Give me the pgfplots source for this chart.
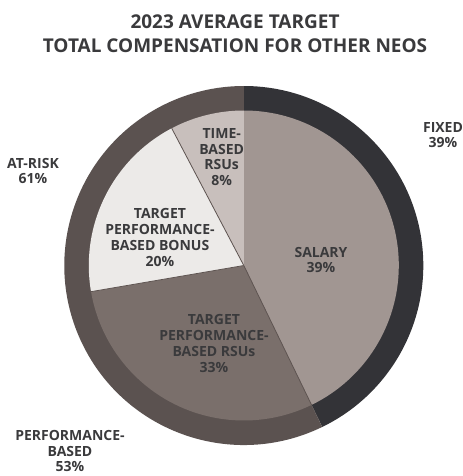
\documentclass[border=0pt]{standalone}
\usepackage{pgfplots}
\usepackage{pgfplotstable}
\pgfplotsset{compat=1.18}
\usepackage{fontspec}
\setmainfont{Open Sans}
\definecolor{cFixed}{RGB}{51,51,55}
\definecolor{cRisk}{RGB}{91,82,80}
\definecolor{cSalary}{RGB}{161,150,146}
\definecolor{cRSU}{RGB}{122,111,107}
\definecolor{cBonus}{RGB}{236,234,232}
\definecolor{cTime}{RGB}{200,191,188}
\definecolor{cLine}{RGB}{95,85,82}
\definecolor{cText}{RGB}{58,58,60}

% inner pie: drawn share of each slice (clockwise from 12 o'clock)
\pgfplotstableread{
value color
42.8 cSalary
29.5 cRSU
20.0 cBonus
7.7 cTime
}\pietable
% outer ring
\pgfplotstableread{
value color
42.8 cFixed
57.2 cRisk
}\ringtable

\begin{document}
\begin{tikzpicture}
\begin{axis}[
  hide axis, scale only axis,
  width=231pt, height=238pt,
  xmin=0, xmax=462, ymin=0, ymax=476,
  y dir=reverse, clip=false,
]
\def\cx{243.8}\def\cy{265.5}
% outer ring
\xdef\angA{90}
\foreach \i in {0,1}{
  \pgfplotstablegetelem{\i}{value}\of\ringtable \let\v\pgfplotsretval
  \pgfplotstablegetelem{\i}{color}\of\ringtable \let\c\pgfplotsretval
  \pgfmathsetmacro\angB{\angA-3.6*\v}
  \edef\tmp{\noexpand\fill[\c] (axis cs:\cx,\cy) -- ++(\angA:89.75pt) arc[start angle=\angA, end angle=\angB, radius=89.75pt] -- cycle;}
  \tmp
  \xdef\angA{\angB}
}
% inner pie
\xdef\angA{90}
\foreach \i in {0,...,3}{
  \pgfplotstablegetelem{\i}{value}\of\pietable \let\v\pgfplotsretval
  \pgfplotstablegetelem{\i}{color}\of\pietable \let\c\pgfplotsretval
  \pgfmathsetmacro\angB{\angA-3.6*\v}
  \edef\tmp{\noexpand\fill[\c] (axis cs:\cx,\cy) -- ++(\angA:77.5pt) arc[start angle=\angA, end angle=\angB, radius=77.5pt] -- cycle;
    \noexpand\draw[cLine, line width=0.4pt] (axis cs:\cx,\cy) -- ++(\angA:77.5pt);}
  \tmp
  \xdef\angA{\angB}
}
% texts
\tikzset{lab/.style={align=center, inner sep=0pt, text=cText, font=\bfseries\fontsize{7}{7.9}\selectfont}}
\node[align=center, inner sep=0pt, text=cText, font=\bfseries\fontsize{9.5}{11.8}\selectfont] at (axis cs:235,34) {2023 AVERAGE TARGET\\TOTAL COMPENSATION FOR OTHER NEOS};
\node[lab] at (axis cs:321,260) {SALARY\\39\%};
\node[lab] at (axis cs:214,343.5) {TARGET\\PERFORMANCE-\\BASED RSUs\\33\%};
\node[lab] at (axis cs:160,237.5) {TARGET\\PERFORMANCE-\\BASED BONUS\\20\%};
\node[lab] at (axis cs:221.7,157) {TIME-\\BASED\\RSUs\\8\%};
\node[lab] at (axis cs:443,135) {FIXED\\39\%};
\node[lab] at (axis cs:33,171) {AT-RISK\\61\%};
\node[lab] at (axis cs:70,451) {PERFORMANCE-\\BASED\\53\%};
\end{axis}
\pgfresetboundingbox
\useasboundingbox (current axis.south west) rectangle (current axis.north east);
\end{tikzpicture}
\end{document}
